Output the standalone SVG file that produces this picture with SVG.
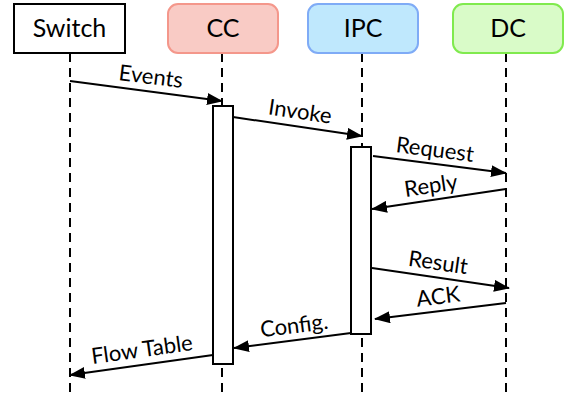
<svg xmlns="http://www.w3.org/2000/svg" width="574" height="403" viewBox="0 0 574 403">
<style>
.hd{font-family:Lato,"Open Sans",sans-serif;font-size:25px;fill:#000;text-anchor:middle}
.lb{font-family:Lato,"Open Sans",sans-serif;font-size:22px;fill:#000;text-anchor:middle}
.life{stroke:#000;stroke-width:2;stroke-dasharray:9,6;fill:none}
.msg{stroke:#000;stroke-width:2;fill:none;marker-end:url(#ah)}
.act{fill:#fff;stroke:#000;stroke-width:2}
</style>
<defs>
<marker id="ah" viewBox="0 0 16 12" refX="15" refY="6" markerWidth="16" markerHeight="12" markerUnits="userSpaceOnUse" orient="auto">
<path d="M0,0 L16,6 L0,12 Z" fill="#000"/>
</marker>
</defs>
<g id="lifelines">
<line class="life" x1="70" y1="53" x2="70" y2="398"/>
<line class="life" x1="222" y1="53" x2="222" y2="392"/>
<line class="life" x1="362" y1="53" x2="362" y2="392"/>
<line class="life" x1="506" y1="53" x2="506" y2="392"/>
</g>
<g id="switch">
<rect x="14" y="4" width="111" height="49" fill="#fff" stroke="#000" stroke-width="2"/>
<text class="hd" x="69.5" y="37">Switch</text>
</g>
<g id="cc">
<rect x="168" y="4" width="110" height="49" rx="10" fill="#f9cbc5" stroke="#f4978b" stroke-width="2"/>
<text class="hd" x="223" y="37">CC</text>
</g>
<g id="ipc">
<rect x="308" y="4" width="110" height="49" rx="10" fill="#bfe8fd" stroke="#7fabf6" stroke-width="2"/>
<text class="hd" x="363" y="37">IPC</text>
</g>
<g id="dc">
<rect x="453" y="4" width="110" height="49" rx="10" fill="#d9fbc8" stroke="#80ea4e" stroke-width="2"/>
<text class="hd" x="508" y="37">DC</text>
</g>
<g id="cc-activation">
<rect class="act" x="213" y="106" width="20" height="258"/>
</g>
<g id="ipc-activation">
<rect class="act" x="351" y="147" width="20" height="187"/>
</g>
<g id="connectors">
<line class="msg" x1="70" y1="81" x2="222" y2="101"/>
<line class="msg" x1="233" y1="117" x2="362" y2="136"/>
<line class="msg" x1="373" y1="156" x2="506" y2="173"/>
<line class="msg" x1="506" y1="189" x2="372" y2="209"/>
<line class="msg" x1="372" y1="268" x2="509" y2="288"/>
<line class="msg" x1="506" y1="303" x2="375" y2="319"/>
<line class="msg" x1="351" y1="333" x2="234" y2="348"/>
<line class="msg" x1="213" y1="355" x2="70" y2="375"/>
</g>
<g id="labels">
<text class="lb" transform="translate(150,84) rotate(7.1)">Events</text>
<text class="lb" transform="translate(299,119) rotate(8.4)">Invoke</text>
<text class="lb" transform="translate(434,157) rotate(7.3)">Request</text>
<text class="lb" transform="translate(432,193) rotate(-8.5)">Reply</text>
<text class="lb" transform="translate(437,270) rotate(8.2)">Result</text>
<text class="lb" transform="translate(439,304) rotate(-7)">ACK</text>
<text class="lb" transform="translate(295,333) rotate(-7.2)">Config.</text>
<text class="lb" transform="translate(143,357) rotate(-8)">Flow Table</text>
</g>
</svg>
